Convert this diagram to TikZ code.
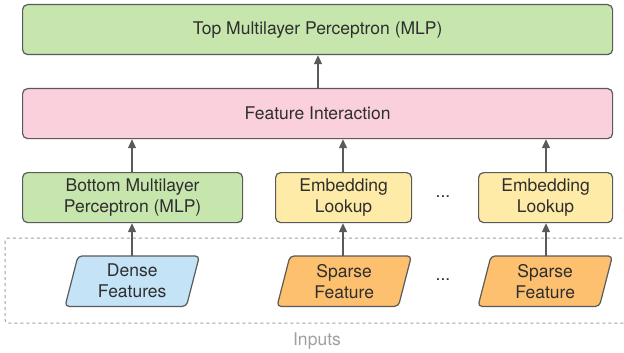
\documentclass[tikz,border=0pt]{standalone}
\usepackage{fontspec}
\setmainfont{TeX Gyre Heros}
\usetikzlibrary{arrows.meta,backgrounds}
\definecolor{bordc}{HTML}{5A5A5A}
\definecolor{txtc}{HTML}{2E2E2E}
\definecolor{greenf}{HTML}{C6E6AD}
\definecolor{pinkf}{HTML}{F9D0DC}
\definecolor{yellowf}{HTML}{FFEBA8}
\definecolor{bluef}{HTML}{C4E3F6}
\definecolor{orangef}{HTML}{FCC06E}
\definecolor{inpc}{HTML}{A0A0A0}
\tikzset{
  lblfont/.style={font=\fontsize{17.5}{21}\selectfont},
  box/.style={draw=bordc, line width=1.2pt, rounded corners=5pt, inner sep=0pt,
    text=txtc, lblfont, align=center, anchor=north west},
  para/.style={inner sep=0pt, text=txtc, lblfont, align=center,
    minimum width=134pt, minimum height=50pt, anchor=north west},
  parashape/.style={draw=bordc, line width=1.2pt, rounded corners=4pt},
  arr/.style={draw=bordc, line width=1.2pt, -{Triangle[length=9pt,width=8pt]}},
  dots/.style={text=txtc, lblfont}
}
\begin{document}
\begin{tikzpicture}[x=1pt,y=-1pt]
\useasboundingbox (0,0) rectangle (624,353);
% dashed inputs frame
\draw[draw=inpc, line width=1pt, dash pattern=on 3pt off 3pt, rounded corners=3pt] (5,238) rectangle (640,323);
\node[text=inpc, lblfont] (inputs) at (317,341) {Inputs};

\node[box, fill=greenf, minimum width=590pt, minimum height=50pt] (top) at (22,4) {Top Multilayer Perceptron (MLP)};
\node[box, fill=pinkf, minimum width=590pt, minimum height=50pt] (fi) at (22,88) {Feature Interaction};
\node[box, fill=greenf, minimum width=220pt, minimum height=50pt] (bmlp) at (22,172) {Bottom Multilayer\\Perceptron (MLP)};
\node[box, fill=yellowf, minimum width=136pt, minimum height=50pt] (emb1) at (275,172) {Embedding\\Lookup};
\node[box, fill=yellowf, minimum width=134pt, minimum height=50pt] (emb2) at (478,172) {Embedding\\Lookup};
\node[dots] (dots1) at (443,197) {...};

\node[para] (dense) at (65,256) {Dense\\Features};
\node[para] (sp1) at (277,256) {Sparse\\Feature};
\node[para] (sp2) at (478,256) {Sparse\\Feature};
\node[dots] (dots2) at (443,280) {...};
\begin{scope}[on background layer]
\draw[parashape, fill=bluef] (dense.south west) -- ([xshift=13pt]dense.north west) -- (dense.north east) -- ([xshift=-13pt]dense.south east) -- cycle;
\draw[parashape, fill=orangef] (sp1.south west) -- ([xshift=13pt]sp1.north west) -- (sp1.north east) -- ([xshift=-13pt]sp1.south east) -- cycle;
\draw[parashape, fill=orangef] (sp2.south west) -- ([xshift=13pt]sp2.north west) -- (sp2.north east) -- ([xshift=-13pt]sp2.south east) -- cycle;
\end{scope}

\draw[arr] (fi.north -| 318,0) -- (top.south -| 318,0);
\draw[arr] (bmlp.north -| 132,0) -- (fi.south -| 132,0);
\draw[arr] (emb1.north -| 343,0) -- (fi.south -| 343,0);
\draw[arr] (emb2.north -| 546,0) -- (fi.south -| 546,0);
\draw[arr] (dense.north -| 132,0) -- (bmlp.south -| 132,0);
\draw[arr] (sp1.north -| 343,0) -- (emb1.south -| 343,0);
\draw[arr] (sp2.north -| 546,0) -- (emb2.south -| 546,0);
\end{tikzpicture}
\end{document}
